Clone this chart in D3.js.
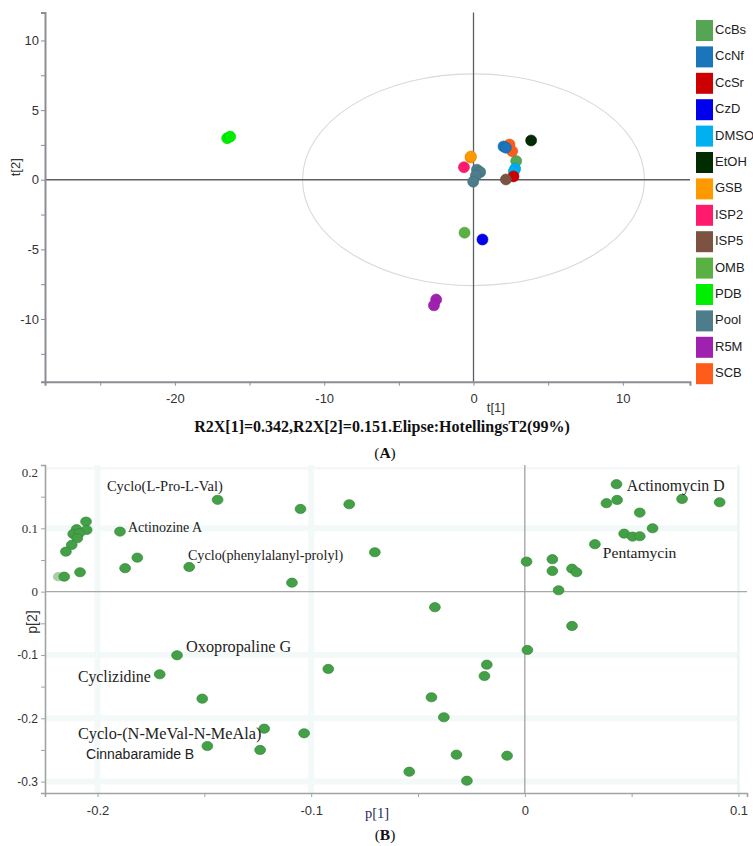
<!DOCTYPE html>
<html><head><meta charset="utf-8">
<script src="https://cdn.jsdelivr.net/npm/d3@7"></script>
<style>body{margin:0;background:#fff}svg{display:block}</style>
</head><body>
<svg id="c" width="753" height="846"></svg>
<script>
// ---------- Panel A: score plot data ----------
const groupNames = ["CcBs","CcNf","CcSr","CzD","DMSO","EtOH","GSB","ISP2","ISP5","OMB","PDB","Pool","R5M","SCB"];
const groupColors = ["#55a555","#1a75bb","#cc0000","#0000ee","#00b0f0","#012b01","#ff9900","#ff1a6e","#7d5242","#5ab143","#00ee00","#4d7c8a","#a020b0","#ff5c1c"];
const scoreGroup = ["PDB","PDB","GSB","GSB","ISP2","Pool","Pool","Pool","Pool","SCB","SCB","CcNf","CcNf","CcBs","DMSO","DMSO","CcSr","ISP5","EtOH","OMB","CzD","R5M","R5M"];
const scoreT1 = [-16.5,-16.3,-0.2,-0.17,-0.64,0.23,0.45,0.16,-0.02,2.41,2.59,2.01,2.17,2.86,2.79,2.7,2.68,2.17,3.86,-0.6,0.6,-2.5,-2.65];
const scoreT2 = [2.98,3.1,1.6,1.67,0.9,0.72,0.55,0.31,-0.14,2.53,2.05,2.39,2.3,1.34,0.79,0.6,0.24,0.02,2.82,-3.8,-4.29,-8.6,-9.02];
const ellipseRadii = [11.45, 7.6]; // Hotelling T2 (99%) in t[1], t[2] units
const xTicksA = [-25,-20,-15,-10,-5,0,5,10];
const yTicksA = [-12.5,-10,-7.5,-5,-2.5,0,2.5,5,7.5,10];
const captionA = "R2X[1]=0.342,R2X[2]=0.151.Elipse:HotellingsT2(99%)";

// ---------- Panel B: loading plot data ----------
const loadP1 = [-0.1438,-0.105,-0.0822,-0.0702,-0.2054,-0.2051,-0.2098,-0.2114,-0.2086,-0.2095,-0.2121,-0.2148,-0.2156,-0.2082,-0.1895,-0.1814,-0.1871,-0.1571,-0.109,
  0.0429,0.0382,0.0432,0.0736,0.0912,0.0538,0.0598,0.0465,0.0504,0.0538,0.0328,0.0008,0.0129,0.0129,0.0221,0.0242,0.0158,-0.0421,0.0221,
  -0.1628,-0.1709,-0.092,-0.151,-0.122,-0.1033,-0.1486,-0.1239,
  0.0012,-0.0178,-0.0189,-0.0437,-0.0379,-0.032,-0.0083,-0.0541,-0.0271];
const loadP2 = [0.145,0.1306,0.138,0.0622,0.1106,0.0975,0.0986,0.0912,0.0922,0.0843,0.0738,0.0632,0.0237,0.0306,0.0948,0.0537,0.037,0.039,0.0142,
  0.1697,0.1397,0.1449,0.1464,0.1412,0.1248,0.1001,0.0916,0.0869,0.0875,0.0749,0.0474,0.0512,0.0327,0.0363,0.0306,0.0022,-0.0246,-0.0542,
  -0.1005,-0.1305,-0.1221,-0.169,-0.2164,-0.2237,-0.2438,-0.25,
  -0.0921,-0.1153,-0.1332,-0.1668,-0.1984,-0.2575,-0.2591,-0.2844,-0.2986];
const fadedP1 = [-0.2184], fadedP2 = [0.0237];
const labelTexts = ["Cyclo(L-Pro-L-Val)","Actinozine A","Cyclo(phenylalanyl-prolyl)","Actinomycin D","Pentamycin","Oxopropaline G","Cyclizidine","Cyclo-(N-MeVal-N-MeAla)","Cinnabaramide B"];
const labelP1 = [-0.1956,-0.1858,-0.1577,0.0477,0.0365,-0.1586,-0.2092,-0.2092,-0.2054];
const labelP2 = [0.1638,0.099,0.0548,0.1654,0.0595,-0.089,-0.1365,-0.2265,-0.2581];
const xTicksB = [-0.2,-0.15,-0.1,-0.05,0,0.05,0.1];
const yTicksB = [-0.3,-0.25,-0.2,-0.15,-0.1,-0.05,0,0.05,0.1,0.15,0.2];

// label styling (not data)
const labelSize = [14.5,14,14.2,15.8,15.6,16.3,15.8,16.3,14];
const labelSans = [false,false,false,false,false,false,false,false,true];

const svg = d3.select("#c");
const sans = "'Liberation Sans', Arial, sans-serif";
const serif = "'Liberation Serif', 'Times New Roman', serif";

// ================= Panel A =================
const xA = d3.scaleLinear().domain([-28.7, 14.5]).range([45, 690]);
const yA = d3.scaleLinear().domain([-14.5, 12]).range([381.7, 12.6]);
const gA = svg.append("g");

gA.append("ellipse")
  .attr("cx", xA(0)).attr("cy", yA(0))
  .attr("rx", xA(ellipseRadii[0]) - xA(0))
  .attr("ry", yA(0) - yA(ellipseRadii[1]))
  .attr("fill","none").attr("stroke","#d9d9d9").attr("stroke-width",1.1);

gA.append("line").attr("x1", xA(-28.7)).attr("x2", xA(14.5)).attr("y1", yA(0)).attr("y2", yA(0)).attr("stroke","#5a5f66").attr("stroke-width",1.3);
gA.append("line").attr("x1", xA(0)).attr("x2", xA(0)).attr("y1", yA(12)).attr("y2", yA(-14.5)).attr("stroke","#5a5f66").attr("stroke-width",1.3);

const axAx = gA.append("g").attr("transform",`translate(0,${yA(-14.5)})`)
  .call(d3.axisBottom(xA).tickValues(xTicksA).tickSizeOuter(0).tickSize(4)
    .tickFormat(d => d % 10 === 0 ? d3.format("d")(d).replace("−","-") : ""));
const axAy = gA.append("g").attr("transform",`translate(${xA(-28.7)},0)`)
  .call(d3.axisLeft(yA).tickValues(yTicksA).tickSizeOuter(0).tickSize(4)
    .tickFormat(d => d % 5 === 0 ? d3.format("d")(d).replace("−","-") : ""));
[axAx, axAy].forEach(a => {
  a.select(".domain").attr("stroke","#8a8d92").attr("stroke-width",2);
  a.selectAll(".tick line").attr("stroke","#8a8d92");
  a.selectAll(".tick text").attr("fill","#333").style("font-family",sans).style("font-size","13px");
});
axAx.selectAll(".tick text").attr("dy","1.1em");
axAy.selectAll(".tick text").attr("dx","1px");

gA.append("text").attr("x",17).attr("y",yA(0.9)).attr("transform",`rotate(-90,17,${yA(0.9)})`)
  .attr("text-anchor","middle").attr("dominant-baseline","middle")
  .style("font-family",sans).style("font-size","13px").attr("fill","#333").text("t[2]");
gA.append("text").attr("x",xA(1.5)).attr("y",412).attr("text-anchor","middle")
  .style("font-family",sans).style("font-size","13px").attr("fill","#333").text("t[1]");

const colorA = d3.scaleOrdinal().domain(groupNames).range(groupColors);
gA.append("g").selectAll("circle").data(scoreT1.map((v,i)=>({t1:v,t2:scoreT2[i],g:scoreGroup[i]})))
  .join("circle")
  .attr("cx", d => xA(d.t1)).attr("cy", d => yA(d.t2)).attr("r", 5.5)
  .attr("fill", d => colorA(d.g))
  .attr("stroke", d => d3.color(colorA(d.g)).darker(0.4)).attr("stroke-width",0.6);

const leg = gA.append("g");
groupNames.forEach((n,i) => {
  const y0 = 20 + i*26.4;
  leg.append("rect").attr("x",696).attr("y",y0).attr("width",17).attr("height",21).attr("fill",colorA(n));
  leg.append("text").attr("x",715).attr("y",y0+10.5).attr("dominant-baseline","middle")
    .style("font-family",sans).style("font-size","13px").attr("fill","#222").text(n);
});

svg.append("text").attr("x",382).attr("y",432).attr("text-anchor","middle")
  .style("font-family",serif).style("font-size","16px").style("font-weight","bold").attr("fill","#111").text(captionA);
const tA = svg.append("text").attr("x",385).attr("y",458).attr("text-anchor","middle")
  .style("font-family",serif).style("font-size","15.5px").attr("fill","#111");
tA.append("tspan").text("(");
tA.append("tspan").style("font-weight","bold").text("A");
tA.append("tspan").text(")");

// ================= Panel B =================
const xB = d3.scaleLinear().domain([-0.2246, 0.104]).range([45, 747]);
const yB = d3.scaleLinear().domain([-0.318, 0.2]).range([793, 465]);
const gB = svg.append("g");

const bandCol = "#f3f9f8";
[-0.2,-0.1].forEach(v => gB.append("line").attr("x1",xB(v)).attr("x2",xB(v)).attr("y1",yB(0.2)).attr("y2",yB(-0.318)).attr("stroke",bandCol).attr("stroke-width",6));
[0.1,-0.1,-0.2,-0.3].forEach(v => gB.append("line").attr("x1",xB(-0.2246)).attr("x2",xB(0.1)).attr("y1",yB(v)).attr("y2",yB(v)).attr("stroke",bandCol).attr("stroke-width",6));
gB.append("line").attr("x1",xB(0.1)).attr("x2",xB(0.1)).attr("y1",yB(0.2)).attr("y2",yB(-0.318)).attr("stroke","#edf4f4").attr("stroke-width",2.5);
gB.append("line").attr("x1",xB(-0.2246)).attr("x2",xB(0.1)).attr("y1",yB(0.195)).attr("y2",yB(0.195)).attr("stroke","#f3f7f7").attr("stroke-width",2.5);

gB.append("line").attr("x1",xB(-0.2246)).attr("x2",xB(0.104)).attr("y1",yB(0)).attr("y2",yB(0)).attr("stroke","#a8a8a8").attr("stroke-width",1.2);
gB.append("line").attr("x1",xB(0)).attr("x2",xB(0)).attr("y1",yB(0.2)).attr("y2",yB(-0.318)).attr("stroke","#9a9a9a").attr("stroke-width",1.2);

const axBx = gB.append("g").attr("transform",`translate(0,${yB(-0.318)})`)
  .call(d3.axisBottom(xB).tickValues(xTicksB).tickSizeOuter(0).tickSize(4)
    .tickFormat(d => Math.abs(Math.round(d*100)) % 10 === 0 ? (d===0?"0":d3.format(".1f")(d).replace("−","-")) : ""));
const axBy = gB.append("g").attr("transform",`translate(${xB(-0.2246)},0)`)
  .call(d3.axisLeft(yB).tickValues(yTicksB).tickSizeOuter(0).tickSize(4)
    .tickFormat(d => Math.abs(Math.round(d*100)) % 10 === 0 ? (Math.abs(d)<1e-9?"0":d3.format(".1f")(d).replace("−","-")) : ""));
[axBx, axBy].forEach(a => {
  a.select(".domain").attr("stroke","#a0a3a6").attr("stroke-width",1.6);
  a.selectAll(".tick line").attr("stroke","#a0a3a6");
  a.selectAll(".tick text").attr("fill","#333").style("font-family",sans).style("font-size","13px");
});
axBx.selectAll(".tick text").attr("dy","1.15em");
axBy.selectAll(".tick text").style("font-size","12px");
axBy.selectAll(".tick text").filter(d => d >= 0).style("font-family",serif).style("font-size","13px").attr("fill","#333");
axBy.selectAll(".tick text").filter(d => d >= 0.199).attr("dy","0.9em");

gB.append("text").attr("x",33).attr("y",622).attr("transform","rotate(-90,33,622)")
  .attr("text-anchor","middle").attr("dominant-baseline","middle")
  .style("font-family",sans).style("font-size","14px").attr("fill","#333").text("p[2]");
gB.append("text").attr("x",377).attr("y",818).attr("text-anchor","middle")
  .style("font-family",serif).style("font-size","14.5px").attr("fill","#1c2a5c").text("p[1]");

gB.append("g").selectAll("ellipse").data(fadedP1.map((v,i)=>({p1:v,p2:fadedP2[i]})))
  .join("ellipse").attr("cx",d=>xB(d.p1)).attr("cy",d=>yB(d.p2)).attr("rx",5.4).attr("ry",4.6)
  .attr("fill","#a9cfa9");
gB.append("g").selectAll("ellipse").data(loadP1.map((v,i)=>({p1:v,p2:loadP2[i]})))
  .join("ellipse").attr("cx",d=>xB(d.p1)).attr("cy",d=>yB(d.p2)).attr("rx",5.4).attr("ry",4.6)
  .attr("fill","#43a046").attr("stroke","#358a38").attr("stroke-width",0.7);

gB.append("g").selectAll("text").data(labelTexts.map((t,i)=>({t, p1:labelP1[i], p2:labelP2[i], i})))
  .join("text").attr("x",d=>xB(d.p1)).attr("y",d=>yB(d.p2)).attr("dominant-baseline","middle")
  .style("font-family",d=>labelSans[d.i]?sans:serif).style("font-size",d=>labelSize[d.i]+"px")
  .attr("fill","#222").text(d=>d.t);

const tB = svg.append("text").attr("x",385).attr("y",840).attr("text-anchor","middle")
  .style("font-family",serif).style("font-size","15.5px").attr("fill","#111");
tB.append("tspan").text("(");
tB.append("tspan").style("font-weight","bold").text("B");
tB.append("tspan").text(")");
</script>
</body></html>
